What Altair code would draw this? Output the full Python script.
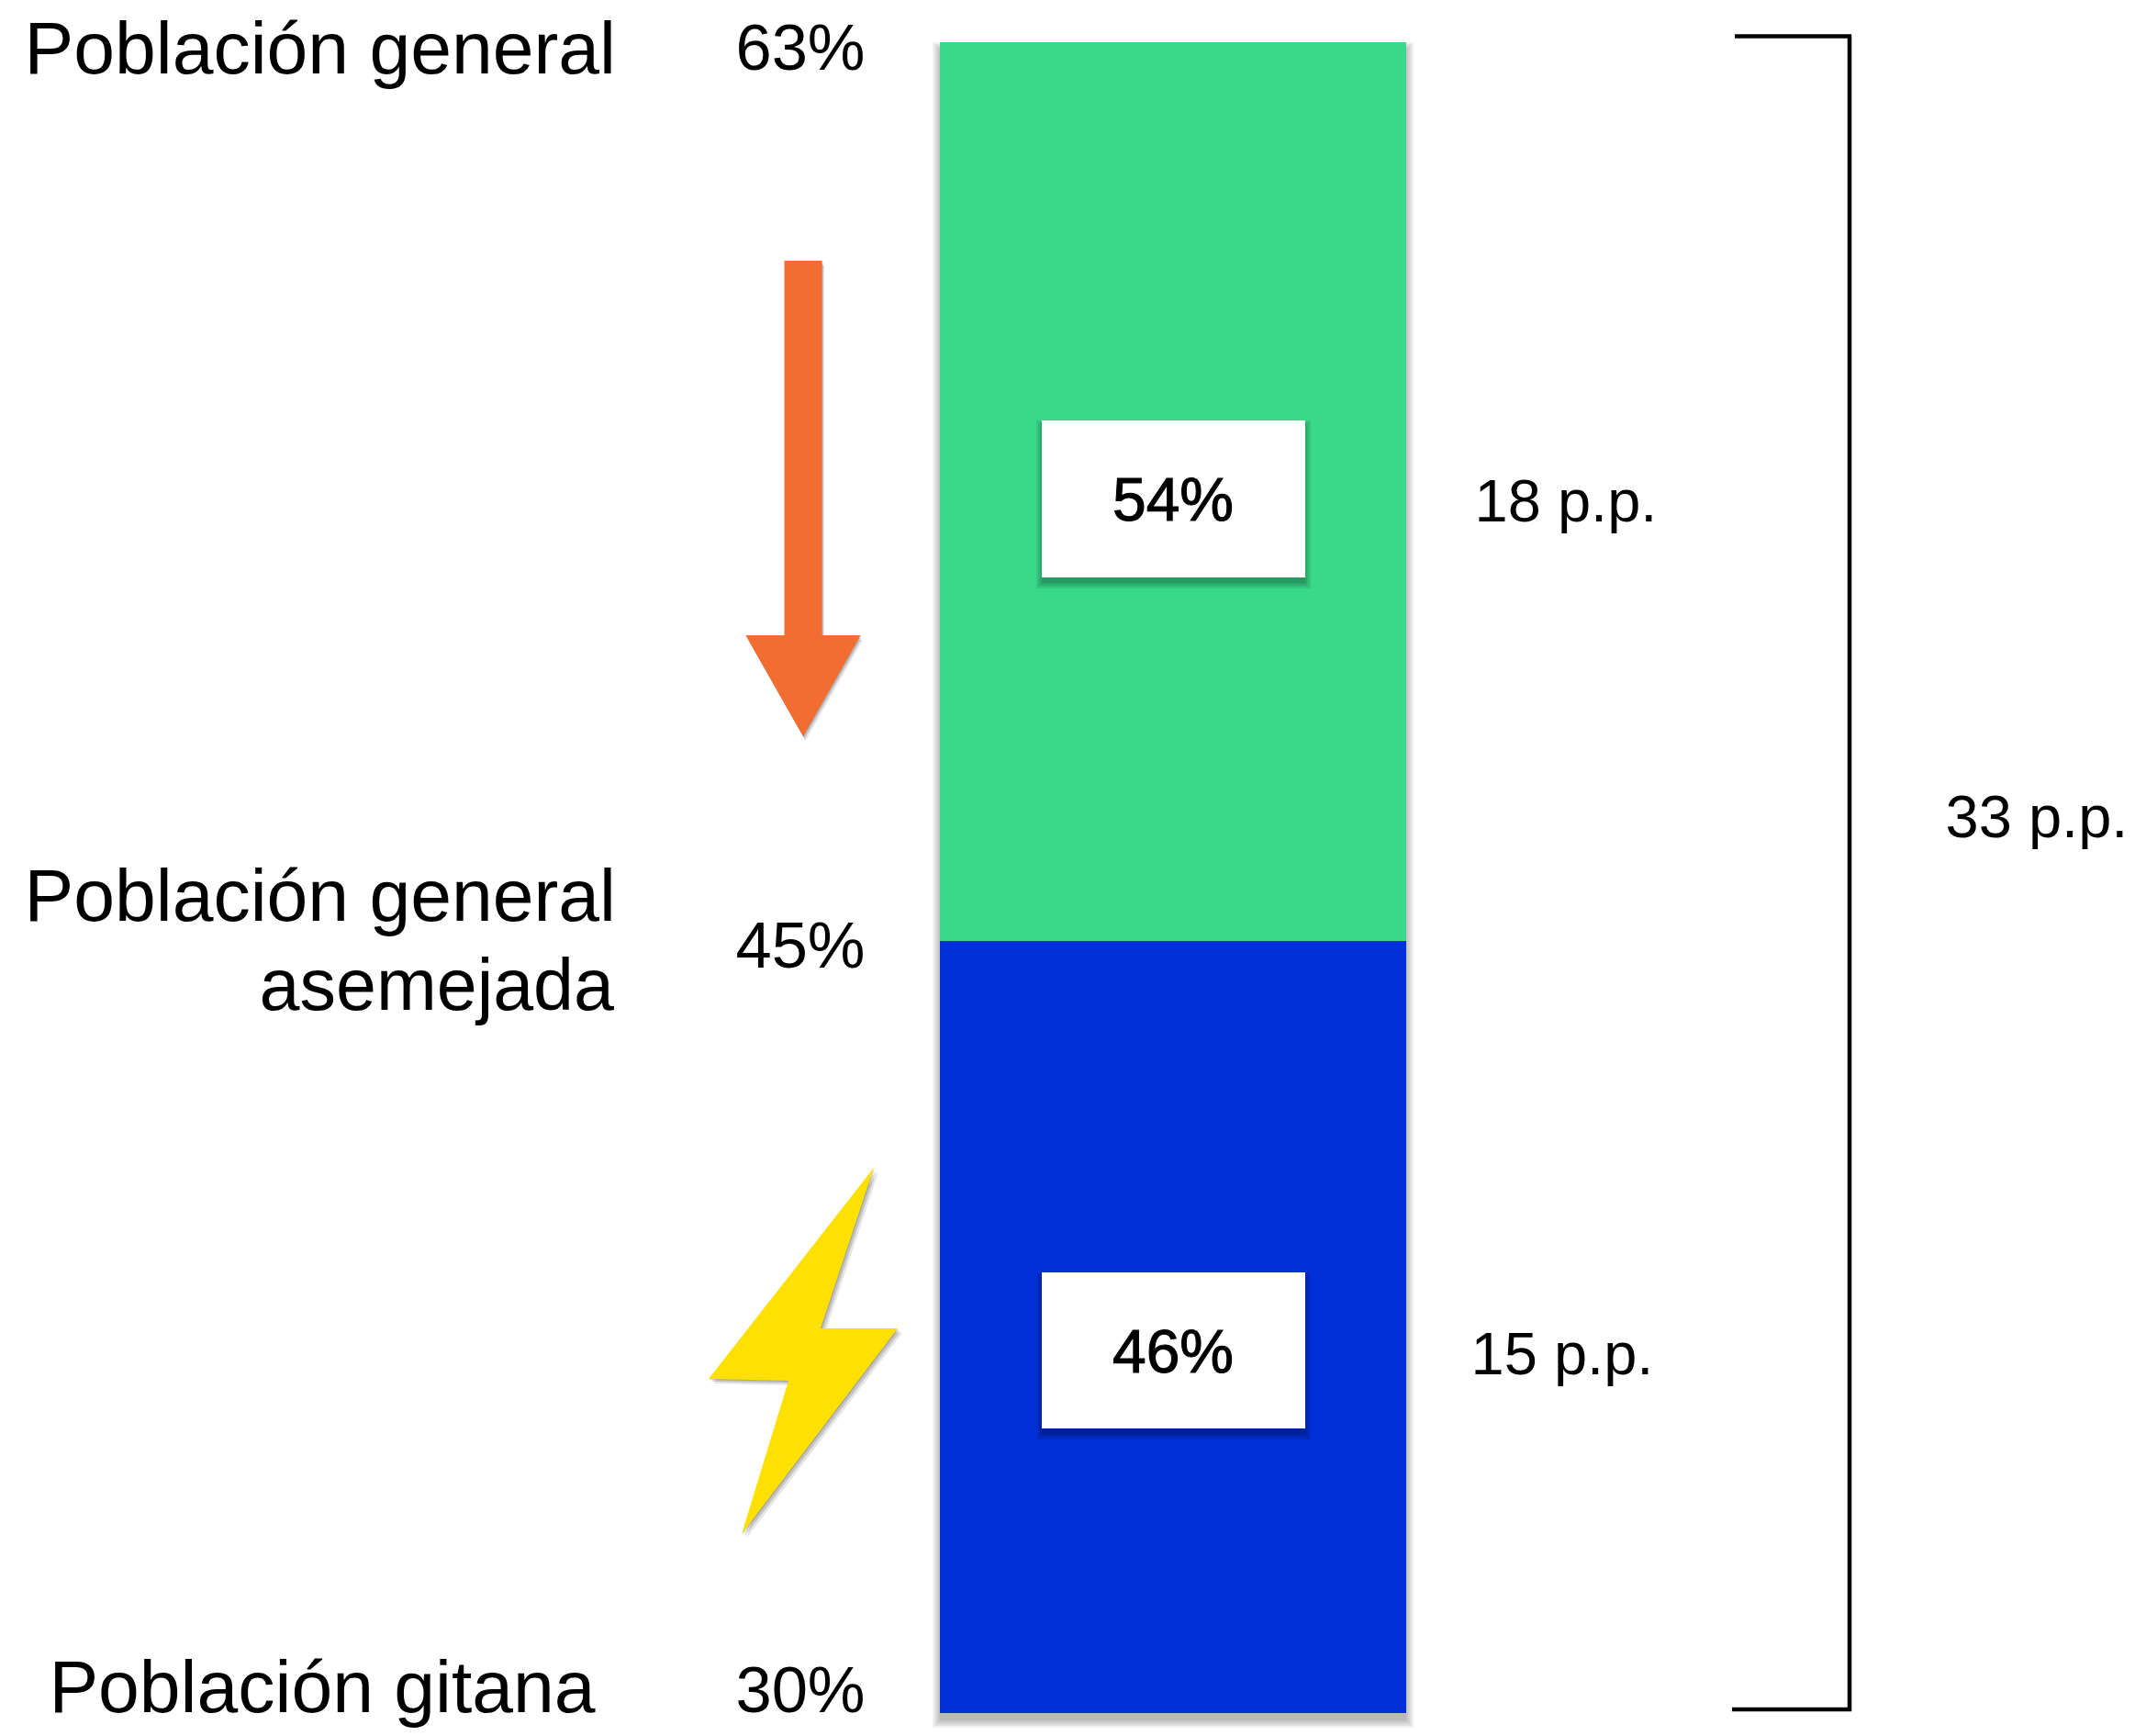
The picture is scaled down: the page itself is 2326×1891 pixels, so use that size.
import altair as alt

# ---- values ----
levels = [63, 45, 30]
level_labels = ["63%", "45%", "30%"]
segment_tops = [63, 45]
segment_bottoms = [45, 30]
segment_names = ["general", "gitana"]
shares = ["54%", "46%"]
gaps = ["18 p.p.", "15 p.p."]
total_gap = "33 p.p."
group_labels = ["Población general", "Población general", "asemejada", "Población gitana"]

GREEN, BLUE, ORANGE, YELLOW = "#3AD889", "#0230D8", "#F46D30", "#FFE000"
FONT = "Liberation Sans"
W, H = 2310, 1875
one = alt.Data(values=[{"k": 1}])


def px(v):
    """picture pixel -> chart pixel (the page has an 8px margin)"""
    return v - 8


y_scale = alt.Scale(domain=[30, 45, 63], range=[px(1866), px(1025), px(46)])


def rect(x0, x1, y0, y1, color, opacity=1.0):
    return alt.Chart(one).mark_rect(color=color, opacity=opacity).encode(
        x=alt.value(px(x0)), x2=alt.value(px(x1)),
        y=alt.value(px(y0)), y2=alt.value(px(y1)))


def shadow(x0, x1, y0, y1, off=8, spreads=(8, 6, 4, 2, 0), a=0.06):
    return [rect(x0 - e, x1 + e, y0 + off - e, y1 + off + e, "#000000", a) for e in spreads]


def text(s, x, y, size, align="center", bold=False):
    kw = {"stroke": "#000000", "strokeWidth": 1.1} if bold else {}
    return alt.Chart(one).mark_text(
        text=s, font=FONT, fontSize=size, align=align, baseline="alphabetic",
        color="#000000", **kw
    ).encode(x=alt.value(px(x)), y=alt.value(px(y)))


def level_text(s, level, dy):
    return alt.Chart(one).mark_text(
        text=s, font=FONT, fontSize=70.5, align="center", baseline="alphabetic",
        color="#000000", dy=dy
    ).encode(x=alt.value(px(872)),
             y=alt.Y(datum=level, type="quantitative", scale=y_scale, axis=None))


def icon(path, x, y, color, opacity=1.0):
    return alt.Chart(one).mark_point(
        shape=path, size=40000, filled=True, fill=color, opacity=opacity, strokeWidth=0
    ).encode(x=alt.value(px(x)), y=alt.value(px(y)))


def line(x0, x1, y0, y1):
    return alt.Chart(one).mark_rule(color="#000000", strokeWidth=4.5).encode(
        x=alt.value(px(x0)), x2=alt.value(px(x1)),
        y=alt.value(px(y0)), y2=alt.value(px(y1)))


ARROW = "M-0.205,-2.59 L0.205,-2.59 L0.205,1.49 L0.625,1.49 L0,2.59 L-0.625,1.49 L-0.205,1.49 Z"
BOLT = "M0.77,-1.98 L0.19,-0.23 L1.03,-0.23 L-0.67,2.01 L-0.16,0.34 L-1.03,0.32 Z"

layers = []
# bar shadow
layers += shadow(1024, 1532, 46, 1866)
# stacked bar, through the y scale
seg = alt.Data(values=[{"name": n, "top": t, "bottom": b}
                       for n, t, b in zip(segment_names, segment_tops, segment_bottoms)])
layers.append(
    alt.Chart(seg).mark_rect().encode(
        x=alt.value(px(1024)), x2=alt.value(px(1532)),
        y=alt.Y("top:Q", scale=y_scale, axis=None),
        y2="bottom:Q",
        color=alt.Color("name:N", scale=alt.Scale(domain=segment_names, range=[GREEN, BLUE]), legend=None),
    )
)
# white boxes
for (y0, y1), s, base in zip([(458, 629), (1386, 1556)], shares, [567, 1495]):
    layers += shadow(1135, 1422, y0, y1, off=6, spreads=(6, 4, 2, 0), a=0.08)
    layers.append(rect(1135, 1422, y0, y1, "#FFFFFF"))
    layers.append(text(s, 1278, base, 66, bold=True))

# group labels
for s, x, base, al, size in zip(group_labels, [671, 671, 669, 351], [80, 1003, 1100, 1865],
                                ["right", "right", "right", "center"], [80.5, 80.5, 79, 80.5]):
    layers.append(text(s, x, base, size, align=al))
# level labels
for s, lv, dy in zip(level_labels, levels, [30, 29, -1]):
    layers.append(level_text(s, lv, dy))
# gaps
layers.append(text(gaps[0], 1706, 568, 65))
layers.append(text(gaps[1], 1702, 1497, 65))
layers.append(text(total_gap, 2219, 912, 65))

# arrow and bolt with soft shadows
for d, o in [(5, 0.1), (3, 0.14), (1, 0.16)]:
    layers.append(icon(ARROW, 875 + d / 2, 543 + d, "#000000", o))
    layers.append(icon(BOLT, 875 + d, 1470 + d, "#000000", o))
layers.append(icon(ARROW, 875, 543, ORANGE))
layers.append(icon(BOLT, 875, 1470, YELLOW))

# bracket
layers.append(line(1890, 2017, 39.5, 39.5))
layers.append(line(2015, 2015, 38, 1864))
layers.append(line(1887, 2017, 1862, 1862))

chart = alt.layer(*layers).properties(
    width=W, height=H, padding=0, background="#FFFFFF",
    autosize=alt.AutoSizeParams(type="none"),
).configure_view(stroke=None)

chart.save("out.html", embed_options={"renderer": "svg", "actions": False})
